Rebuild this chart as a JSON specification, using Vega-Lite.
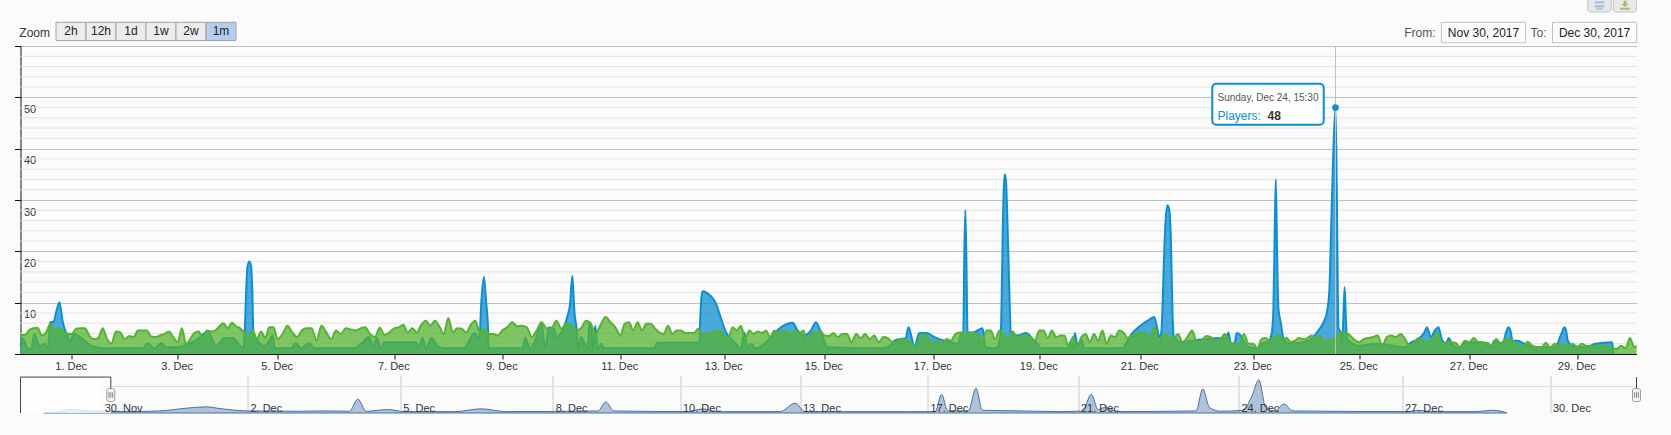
{"$schema":"https://vega.github.io/schema/vega-lite/v6.json","background":"#fbfbfb","padding":{"left":13.5,"top":0,"right":35,"bottom":22},"config":{"view":{"stroke":null},"font":"Liberation Sans"},"bounds":"flush","spacing":0,
"datasets":{
"green":[
{"t":"2017-11-30T00:00","v":3.7},{"t":"2017-11-30T02:00","v":3.7},{"t":"2017-11-30T04:00","v":4.6},{"t":"2017-11-30T06:00","v":5.0},{"t":"2017-11-30T08:00","v":5.1},{"t":"2017-11-30T10:00","v":3.6},{"t":"2017-11-30T12:00","v":4.2},{"t":"2017-11-30T14:00","v":5.9},{"t":"2017-11-30T16:00","v":4.6},{"t":"2017-11-30T18:00","v":5.0},{"t":"2017-11-30T20:00","v":4.4},{"t":"2017-11-30T22:00","v":4.0},
{"t":"2017-12-01T00:00","v":3.9},{"t":"2017-12-01T02:00","v":4.9},{"t":"2017-12-01T04:00","v":5.0},{"t":"2017-12-01T06:00","v":5.0},{"t":"2017-12-01T08:00","v":3.6},{"t":"2017-12-01T10:00","v":2.9},{"t":"2017-12-01T12:00","v":3.1},{"t":"2017-12-01T14:00","v":5.0},{"t":"2017-12-01T16:00","v":2.9},{"t":"2017-12-01T18:00","v":2.0},{"t":"2017-12-01T20:00","v":4.4},{"t":"2017-12-01T22:00","v":4.2},
{"t":"2017-12-02T00:00","v":2.9},{"t":"2017-12-02T02:00","v":3.5},{"t":"2017-12-02T04:00","v":3.3},{"t":"2017-12-02T06:00","v":4.6},{"t":"2017-12-02T08:00","v":4.6},{"t":"2017-12-02T10:00","v":4.6},{"t":"2017-12-02T12:00","v":3.4},{"t":"2017-12-02T14:00","v":3.3},{"t":"2017-12-02T16:00","v":3.6},{"t":"2017-12-02T18:00","v":3.9},{"t":"2017-12-02T20:00","v":4.4},{"t":"2017-12-02T22:00","v":3.3},
{"t":"2017-12-03T00:00","v":2.3},{"t":"2017-12-03T02:00","v":5.0},{"t":"2017-12-03T04:00","v":2.0},{"t":"2017-12-03T06:00","v":2.9},{"t":"2017-12-03T08:00","v":4.1},{"t":"2017-12-03T10:00","v":4.4},{"t":"2017-12-03T12:00","v":3.3},{"t":"2017-12-03T14:00","v":4.6},{"t":"2017-12-03T16:00","v":4.4},{"t":"2017-12-03T18:00","v":4.6},{"t":"2017-12-03T20:00","v":5.4},{"t":"2017-12-03T22:00","v":6.0},
{"t":"2017-12-04T00:00","v":5.0},{"t":"2017-12-04T02:00","v":6.1},{"t":"2017-12-04T04:00","v":5.4},{"t":"2017-12-04T06:00","v":5.0},{"t":"2017-12-04T08:00","v":4.2},{"t":"2017-12-04T10:00","v":3.3},{"t":"2017-12-04T12:00","v":4.6},{"t":"2017-12-04T14:00","v":2.9},{"t":"2017-12-04T16:00","v":4.4},{"t":"2017-12-04T18:00","v":3.1},{"t":"2017-12-04T20:00","v":5.2},{"t":"2017-12-04T22:00","v":5.2},
{"t":"2017-12-05T00:00","v":2.9},{"t":"2017-12-05T02:00","v":3.9},{"t":"2017-12-05T04:00","v":5.5},{"t":"2017-12-05T06:00","v":4.2},{"t":"2017-12-05T08:00","v":3.3},{"t":"2017-12-05T10:00","v":4.6},{"t":"2017-12-05T12:00","v":5.0},{"t":"2017-12-05T14:00","v":5.0},{"t":"2017-12-05T16:00","v":2.6},{"t":"2017-12-05T18:00","v":5.5},{"t":"2017-12-05T20:00","v":4.2},{"t":"2017-12-05T22:00","v":2.9},
{"t":"2017-12-06T00:00","v":4.6},{"t":"2017-12-06T02:00","v":3.9},{"t":"2017-12-06T04:00","v":5.0},{"t":"2017-12-06T06:00","v":4.8},{"t":"2017-12-06T08:00","v":4.6},{"t":"2017-12-06T10:00","v":5.0},{"t":"2017-12-06T12:00","v":5.2},{"t":"2017-12-06T14:00","v":3.9},{"t":"2017-12-06T16:00","v":3.3},{"t":"2017-12-06T18:00","v":5.1},{"t":"2017-12-06T20:00","v":3.7},{"t":"2017-12-06T22:00","v":4.2},
{"t":"2017-12-07T00:00","v":5.0},{"t":"2017-12-07T02:00","v":5.2},{"t":"2017-12-07T04:00","v":5.7},{"t":"2017-12-07T06:00","v":4.2},{"t":"2017-12-07T08:00","v":5.0},{"t":"2017-12-07T10:00","v":4.2},{"t":"2017-12-07T12:00","v":5.7},{"t":"2017-12-07T14:00","v":6.5},{"t":"2017-12-07T16:00","v":5.5},{"t":"2017-12-07T18:00","v":6.5},{"t":"2017-12-07T20:00","v":5.4},{"t":"2017-12-07T22:00","v":3.9},
{"t":"2017-12-08T00:00","v":7.0},{"t":"2017-12-08T02:00","v":4.2},{"t":"2017-12-08T04:00","v":5.0},{"t":"2017-12-08T06:00","v":4.9},{"t":"2017-12-08T08:00","v":4.2},{"t":"2017-12-08T10:00","v":5.7},{"t":"2017-12-08T12:00","v":6.5},{"t":"2017-12-08T14:00","v":4.2},{"t":"2017-12-08T16:00","v":5.0},{"t":"2017-12-08T18:00","v":3.9},{"t":"2017-12-08T20:00","v":3.9},{"t":"2017-12-08T22:00","v":3.6},
{"t":"2017-12-09T00:00","v":4.6},{"t":"2017-12-09T02:00","v":5.2},{"t":"2017-12-09T04:00","v":6.2},{"t":"2017-12-09T06:00","v":5.4},{"t":"2017-12-09T08:00","v":5.5},{"t":"2017-12-09T10:00","v":5.2},{"t":"2017-12-09T12:00","v":3.3},{"t":"2017-12-09T14:00","v":4.6},{"t":"2017-12-09T16:00","v":6.2},{"t":"2017-12-09T18:00","v":5.0},{"t":"2017-12-09T20:00","v":5.0},{"t":"2017-12-09T22:00","v":6.5},
{"t":"2017-12-10T00:00","v":4.9},{"t":"2017-12-10T02:00","v":5.9},{"t":"2017-12-10T04:00","v":5.7},{"t":"2017-12-10T06:00","v":4.6},{"t":"2017-12-10T08:00","v":5.0},{"t":"2017-12-10T10:00","v":6.5},{"t":"2017-12-10T12:00","v":5.9},{"t":"2017-12-10T14:00","v":3.9},{"t":"2017-12-10T16:00","v":5.7},{"t":"2017-12-10T18:00","v":7.2},{"t":"2017-12-10T20:00","v":6.2},{"t":"2017-12-10T22:00","v":5.2},
{"t":"2017-12-11T00:00","v":3.6},{"t":"2017-12-11T02:00","v":5.9},{"t":"2017-12-11T04:00","v":6.2},{"t":"2017-12-11T06:00","v":4.6},{"t":"2017-12-11T08:00","v":6.2},{"t":"2017-12-11T10:00","v":4.6},{"t":"2017-12-11T12:00","v":5.9},{"t":"2017-12-11T14:00","v":5.9},{"t":"2017-12-11T16:00","v":5.0},{"t":"2017-12-11T18:00","v":4.2},{"t":"2017-12-11T20:00","v":3.9},{"t":"2017-12-11T22:00","v":5.5},
{"t":"2017-12-12T00:00","v":3.9},{"t":"2017-12-12T02:00","v":4.6},{"t":"2017-12-12T04:00","v":4.6},{"t":"2017-12-12T06:00","v":4.1},{"t":"2017-12-12T08:00","v":4.1},{"t":"2017-12-12T10:00","v":4.1},{"t":"2017-12-12T12:00","v":4.9},{"t":"2017-12-12T14:00","v":3.6},{"t":"2017-12-12T16:00","v":4.2},{"t":"2017-12-12T18:00","v":3.9},{"t":"2017-12-12T20:00","v":4.6},{"t":"2017-12-12T22:00","v":4.6},
{"t":"2017-12-13T00:00","v":3.6},{"t":"2017-12-13T02:00","v":3.3},{"t":"2017-12-13T04:00","v":5.2},{"t":"2017-12-13T06:00","v":4.6},{"t":"2017-12-13T08:00","v":5.5},{"t":"2017-12-13T10:00","v":2.9},{"t":"2017-12-13T12:00","v":4.6},{"t":"2017-12-13T14:00","v":3.9},{"t":"2017-12-13T16:00","v":4.4},{"t":"2017-12-13T18:00","v":4.1},{"t":"2017-12-13T20:00","v":4.6},{"t":"2017-12-13T22:00","v":3.3},
{"t":"2017-12-14T00:00","v":4.6},{"t":"2017-12-14T02:00","v":3.9},{"t":"2017-12-14T04:00","v":4.6},{"t":"2017-12-14T06:00","v":4.2},{"t":"2017-12-14T08:00","v":3.9},{"t":"2017-12-14T10:00","v":4.6},{"t":"2017-12-14T12:00","v":4.1},{"t":"2017-12-14T14:00","v":4.6},{"t":"2017-12-14T16:00","v":2.0},{"t":"2017-12-14T18:00","v":4.2},{"t":"2017-12-14T20:00","v":3.9},{"t":"2017-12-14T22:00","v":4.6},
{"t":"2017-12-15T00:00","v":3.6},{"t":"2017-12-15T02:00","v":3.5},{"t":"2017-12-15T04:00","v":4.1},{"t":"2017-12-15T06:00","v":3.3},{"t":"2017-12-15T08:00","v":3.9},{"t":"2017-12-15T10:00","v":3.9},{"t":"2017-12-15T12:00","v":2.3},{"t":"2017-12-15T14:00","v":3.9},{"t":"2017-12-15T16:00","v":3.1},{"t":"2017-12-15T18:00","v":3.9},{"t":"2017-12-15T20:00","v":2.9},{"t":"2017-12-15T22:00","v":3.6},
{"t":"2017-12-16T00:00","v":2.3},{"t":"2017-12-16T02:00","v":3.3},{"t":"2017-12-16T04:00","v":3.1},{"t":"2017-12-16T06:00","v":2.3},{"t":"2017-12-16T08:00","v":2.4},{"t":"2017-12-16T10:00","v":2.9},{"t":"2017-12-16T12:00","v":2.6},{"t":"2017-12-16T14:00","v":2.3},{"t":"2017-12-16T16:00","v":1.1},{"t":"2017-12-16T18:00","v":3.1},{"t":"2017-12-16T20:00","v":3.9},{"t":"2017-12-16T22:00","v":2.9},
{"t":"2017-12-17T00:00","v":2.0},{"t":"2017-12-17T02:00","v":2.6},{"t":"2017-12-17T04:00","v":2.0},{"t":"2017-12-17T06:00","v":2.9},{"t":"2017-12-17T08:00","v":2.6},{"t":"2017-12-17T10:00","v":3.9},{"t":"2017-12-17T12:00","v":4.2},{"t":"2017-12-17T14:00","v":4.2},{"t":"2017-12-17T16:00","v":4.2},{"t":"2017-12-17T18:00","v":4.1},{"t":"2017-12-17T20:00","v":3.9},{"t":"2017-12-17T22:00","v":2.3},
{"t":"2017-12-18T00:00","v":4.6},{"t":"2017-12-18T02:00","v":4.6},{"t":"2017-12-18T04:00","v":2.9},{"t":"2017-12-18T06:00","v":4.6},{"t":"2017-12-18T08:00","v":3.9},{"t":"2017-12-18T10:00","v":2.9},{"t":"2017-12-18T12:00","v":4.4},{"t":"2017-12-18T14:00","v":2.9},{"t":"2017-12-18T16:00","v":3.6},{"t":"2017-12-18T18:00","v":3.6},{"t":"2017-12-18T20:00","v":3.3},{"t":"2017-12-18T22:00","v":2.6},
{"t":"2017-12-19T00:00","v":4.6},{"t":"2017-12-19T02:00","v":4.6},{"t":"2017-12-19T04:00","v":3.1},{"t":"2017-12-19T06:00","v":4.6},{"t":"2017-12-19T08:00","v":3.3},{"t":"2017-12-19T10:00","v":3.6},{"t":"2017-12-19T12:00","v":3.6},{"t":"2017-12-19T14:00","v":1.3},{"t":"2017-12-19T16:00","v":3.3},{"t":"2017-12-19T18:00","v":1.3},{"t":"2017-12-19T20:00","v":3.3},{"t":"2017-12-19T22:00","v":3.9},
{"t":"2017-12-20T00:00","v":2.3},{"t":"2017-12-20T02:00","v":3.9},{"t":"2017-12-20T04:00","v":2.6},{"t":"2017-12-20T06:00","v":4.6},{"t":"2017-12-20T08:00","v":2.0},{"t":"2017-12-20T10:00","v":3.6},{"t":"2017-12-20T12:00","v":3.3},{"t":"2017-12-20T14:00","v":4.6},{"t":"2017-12-20T16:00","v":4.2},{"t":"2017-12-20T18:00","v":3.1},{"t":"2017-12-20T20:00","v":3.6},{"t":"2017-12-20T22:00","v":3.9},
{"t":"2017-12-21T00:00","v":4.2},{"t":"2017-12-21T02:00","v":4.2},{"t":"2017-12-21T04:00","v":2.9},{"t":"2017-12-21T06:00","v":5.2},{"t":"2017-12-21T08:00","v":2.3},{"t":"2017-12-21T10:00","v":3.9},{"t":"2017-12-21T12:00","v":3.3},{"t":"2017-12-21T14:00","v":2.9},{"t":"2017-12-21T16:00","v":3.9},{"t":"2017-12-21T18:00","v":2.3},{"t":"2017-12-21T20:00","v":3.3},{"t":"2017-12-21T22:00","v":4.6},
{"t":"2017-12-22T00:00","v":2.4},{"t":"2017-12-22T02:00","v":2.6},{"t":"2017-12-22T04:00","v":3.5},{"t":"2017-12-22T06:00","v":3.3},{"t":"2017-12-22T08:00","v":2.6},{"t":"2017-12-22T10:00","v":2.9},{"t":"2017-12-22T12:00","v":3.9},{"t":"2017-12-22T14:00","v":2.3},{"t":"2017-12-22T16:00","v":2.0},{"t":"2017-12-22T18:00","v":1.6},{"t":"2017-12-22T20:00","v":3.9},{"t":"2017-12-22T22:00","v":2.0},
{"t":"2017-12-23T00:00","v":2.0},{"t":"2017-12-23T02:00","v":1.1},{"t":"2017-12-23T04:00","v":2.9},{"t":"2017-12-23T06:00","v":3.1},{"t":"2017-12-23T08:00","v":2.6},{"t":"2017-12-23T10:00","v":3.3},{"t":"2017-12-23T12:00","v":3.6},{"t":"2017-12-23T14:00","v":2.9},{"t":"2017-12-23T16:00","v":3.1},{"t":"2017-12-23T18:00","v":2.3},{"t":"2017-12-23T20:00","v":2.6},{"t":"2017-12-23T22:00","v":3.1},
{"t":"2017-12-24T00:00","v":2.9},{"t":"2017-12-24T02:00","v":3.1},{"t":"2017-12-24T04:00","v":3.6},{"t":"2017-12-24T06:00","v":2.9},{"t":"2017-12-24T08:00","v":3.6},{"t":"2017-12-24T10:00","v":2.3},{"t":"2017-12-24T12:00","v":2.9},{"t":"2017-12-24T14:00","v":2.6},{"t":"2017-12-24T16:00","v":3.6},{"t":"2017-12-24T18:00","v":4.2},{"t":"2017-12-24T20:00","v":3.9},{"t":"2017-12-24T22:00","v":2.9},
{"t":"2017-12-25T00:00","v":2.3},{"t":"2017-12-25T02:00","v":2.9},{"t":"2017-12-25T04:00","v":3.1},{"t":"2017-12-25T06:00","v":3.3},{"t":"2017-12-25T08:00","v":3.6},{"t":"2017-12-25T10:00","v":1.6},{"t":"2017-12-25T12:00","v":3.3},{"t":"2017-12-25T14:00","v":3.6},{"t":"2017-12-25T16:00","v":3.3},{"t":"2017-12-25T18:00","v":3.9},{"t":"2017-12-25T20:00","v":2.9},{"t":"2017-12-25T22:00","v":1.6},
{"t":"2017-12-26T00:00","v":2.3},{"t":"2017-12-26T02:00","v":3.1},{"t":"2017-12-26T04:00","v":2.6},{"t":"2017-12-26T06:00","v":2.4},{"t":"2017-12-26T08:00","v":2.9},{"t":"2017-12-26T10:00","v":4.2},{"t":"2017-12-26T12:00","v":2.0},{"t":"2017-12-26T14:00","v":2.3},{"t":"2017-12-26T16:00","v":2.3},{"t":"2017-12-26T18:00","v":2.2},{"t":"2017-12-26T20:00","v":1.3},{"t":"2017-12-26T22:00","v":2.6},
{"t":"2017-12-27T00:00","v":2.3},{"t":"2017-12-27T02:00","v":3.1},{"t":"2017-12-27T04:00","v":2.3},{"t":"2017-12-27T06:00","v":2.2},{"t":"2017-12-27T08:00","v":2.2},{"t":"2017-12-27T10:00","v":1.5},{"t":"2017-12-27T12:00","v":2.9},{"t":"2017-12-27T14:00","v":2.0},{"t":"2017-12-27T16:00","v":2.9},{"t":"2017-12-27T18:00","v":2.9},{"t":"2017-12-27T20:00","v":2.3},{"t":"2017-12-27T22:00","v":1.6},
{"t":"2017-12-28T00:00","v":1.6},{"t":"2017-12-28T02:00","v":2.4},{"t":"2017-12-28T04:00","v":1.6},{"t":"2017-12-28T06:00","v":1.3},{"t":"2017-12-28T08:00","v":1.3},{"t":"2017-12-28T10:00","v":2.2},{"t":"2017-12-28T12:00","v":1.3},{"t":"2017-12-28T14:00","v":2.0},{"t":"2017-12-28T16:00","v":1.6},{"t":"2017-12-28T18:00","v":1.8},{"t":"2017-12-28T20:00","v":1.5},{"t":"2017-12-28T22:00","v":2.0},
{"t":"2017-12-29T00:00","v":1.3},{"t":"2017-12-29T02:00","v":2.0},{"t":"2017-12-29T04:00","v":1.6},{"t":"2017-12-29T06:00","v":1.5},{"t":"2017-12-29T08:00","v":1.6},{"t":"2017-12-29T10:00","v":1.5},{"t":"2017-12-29T12:00","v":1.6},{"t":"2017-12-29T14:00","v":1.5},{"t":"2017-12-29T16:00","v":1.1},{"t":"2017-12-29T18:00","v":1.0},{"t":"2017-12-29T20:00","v":1.6},{"t":"2017-12-29T22:00","v":1.1},
{"t":"2017-12-30T00:00","v":3.1},{"t":"2017-12-30T02:00","v":1.3},{"t":"2017-12-30T03:00","v":1.6}
],
"blue":[
{"t":"2017-11-30T00:00","v":1.6},{"t":"2017-11-30T01:00","v":3.0},{"t":"2017-11-30T03:30","v":1.0},{"t":"2017-11-30T05:00","v":1.0},{"t":"2017-11-30T06:30","v":3.9},{"t":"2017-11-30T09:00","v":1.5},{"t":"2017-11-30T11:15","v":2.0},{"t":"2017-11-30T12:50","v":1.0},{"t":"2017-11-30T14:00","v":6.2},{"t":"2017-11-30T15:30","v":6.3},{"t":"2017-11-30T16:45","v":8.2},{"t":"2017-11-30T18:15","v":10.1},{"t":"2017-11-30T19:50","v":6.2},{"t":"2017-11-30T21:25","v":4.1},{"t":"2017-11-30T23:15","v":2.6},
{"t":"2017-12-01T01:15","v":3.9},{"t":"2017-12-01T05:00","v":2.9},{"t":"2017-12-01T08:45","v":1.6},{"t":"2017-12-01T14:00","v":1.1},{"t":"2017-12-02T08:10","v":1.1},{"t":"2017-12-02T10:30","v":2.1},{"t":"2017-12-02T13:30","v":1.1},{"t":"2017-12-02T16:30","v":2.1},{"t":"2017-12-02T18:45","v":1.3},{"t":"2017-12-02T23:15","v":1.3},
{"t":"2017-12-03T05:36","v":2.0},{"t":"2017-12-03T09:36","v":2.9},{"t":"2017-12-03T14:24","v":4.4},{"t":"2017-12-03T18:24","v":1.6},{"t":"2017-12-03T22:24","v":3.1},{"t":"2017-12-04T02:24","v":3.1},{"t":"2017-12-04T07:30","v":1.1},{"t":"2017-12-04T08:10","v":4.2},{"t":"2017-12-04T08:50","v":12},{"t":"2017-12-04T09:30","v":17},{"t":"2017-12-04T10:24","v":18},{"t":"2017-12-04T11:15","v":17},{"t":"2017-12-04T11:50","v":12},{"t":"2017-12-04T12:20","v":4.2},{"t":"2017-12-04T14:24","v":2.6},{"t":"2017-12-04T17:36","v":1.5},{"t":"2017-12-04T20:00","v":2.6},{"t":"2017-12-04T21:36","v":3.6},{"t":"2017-12-04T22:35","v":1.1},
{"t":"2017-12-05T05:30","v":1.1},{"t":"2017-12-05T07:30","v":2.1},{"t":"2017-12-05T09:36","v":1.1},{"t":"2017-12-05T13:00","v":2.1},{"t":"2017-12-05T15:00","v":1.1},{"t":"2017-12-06T07:30","v":1.1},{"t":"2017-12-06T11:00","v":2.3},{"t":"2017-12-06T13:40","v":3.3},{"t":"2017-12-06T15:25","v":1.3},{"t":"2017-12-06T16:45","v":3.1},{"t":"2017-12-06T18:30","v":1.1},{"t":"2017-12-06T19:55","v":2.3},
{"t":"2017-12-07T09:40","v":2.3},{"t":"2017-12-07T10:40","v":1.1},{"t":"2017-12-07T12:35","v":3.1},{"t":"2017-12-07T14:00","v":1.1},{"t":"2017-12-07T16:35","v":3.1},{"t":"2017-12-07T19:15","v":1.5},{"t":"2017-12-07T23:00","v":1.1},{"t":"2017-12-08T07:00","v":1.1},{"t":"2017-12-08T08:35","v":2.0},{"t":"2017-12-08T11:35","v":4.1},{"t":"2017-12-08T13:50","v":2.9},{"t":"2017-12-08T14:40","v":10},{"t":"2017-12-08T15:50","v":15},{"t":"2017-12-08T16:50","v":10},{"t":"2017-12-08T17:40","v":4.9},{"t":"2017-12-08T17:50","v":1.1},
{"t":"2017-12-09T08:15","v":1.1},{"t":"2017-12-09T09:20","v":3.1},{"t":"2017-12-09T11:15","v":1.1},{"t":"2017-12-09T13:35","v":2.9},{"t":"2017-12-09T15:55","v":6.2},{"t":"2017-12-09T17:25","v":1.1},{"t":"2017-12-09T19:00","v":5.2},{"t":"2017-12-09T21:05","v":4.9},{"t":"2017-12-09T21:50","v":3.3},
{"t":"2017-12-10T00:30","v":4.6},{"t":"2017-12-10T02:35","v":7.5},{"t":"2017-12-10T03:30","v":9.5},{"t":"2017-12-10T04:30","v":15.2},{"t":"2017-12-10T05:20","v":8.2},{"t":"2017-12-10T06:15","v":4.6},{"t":"2017-12-10T06:45","v":0.7},{"t":"2017-12-10T08:00","v":3.3},{"t":"2017-12-10T10:45","v":1.0},{"t":"2017-12-10T11:25","v":6.2},{"t":"2017-12-10T12:05","v":5.7},{"t":"2017-12-10T12:50","v":0.7},{"t":"2017-12-10T13:50","v":5.5},{"t":"2017-12-10T14:45","v":0.7},{"t":"2017-12-10T16:05","v":2.0},{"t":"2017-12-10T17:30","v":1.1},
{"t":"2017-12-11T15:40","v":1.1},{"t":"2017-12-11T17:10","v":2.2},{"t":"2017-12-12T12:30","v":2.2},{"t":"2017-12-12T12:50","v":6.2},{"t":"2017-12-12T13:25","v":10.8},{"t":"2017-12-12T14:00","v":12.2},{"t":"2017-12-12T16:20","v":11.8},{"t":"2017-12-12T20:10","v":9.8},{"t":"2017-12-12T22:30","v":6.9},
{"t":"2017-12-13T00:50","v":4.2},{"t":"2017-12-13T04:50","v":2.3},{"t":"2017-12-13T08:00","v":1.1},{"t":"2017-12-13T09:35","v":4.2},{"t":"2017-12-13T11:10","v":1.1},{"t":"2017-12-13T12:50","v":2.0},{"t":"2017-12-13T15:10","v":1.1},{"t":"2017-12-13T19:10","v":2.0},{"t":"2017-12-13T23:10","v":3.6},{"t":"2017-12-14T03:10","v":5.2},{"t":"2017-12-14T08:50","v":6.1},{"t":"2017-12-14T11:10","v":4.6},{"t":"2017-12-14T14:25","v":3.6},{"t":"2017-12-14T17:35","v":4.6},{"t":"2017-12-14T20:00","v":6.2},{"t":"2017-12-14T22:25","v":4.2},
{"t":"2017-12-15T01:30","v":1.3},{"t":"2017-12-16T01:45","v":1.1},{"t":"2017-12-16T04:45","v":1.6},{"t":"2017-12-16T06:55","v":2.6},{"t":"2017-12-16T09:05","v":2.9},{"t":"2017-12-16T12:00","v":3.1},{"t":"2017-12-16T12:35","v":4.6},{"t":"2017-12-16T13:10","v":5.2},{"t":"2017-12-16T14:05","v":3.9},{"t":"2017-12-16T14:40","v":2.9},{"t":"2017-12-16T15:40","v":1.0},{"t":"2017-12-16T16:40","v":2.6},{"t":"2017-12-16T17:55","v":4.1},{"t":"2017-12-16T20:55","v":4.1},
{"t":"2017-12-17T00:30","v":3.3},{"t":"2017-12-17T05:00","v":2.6},{"t":"2017-12-17T08:00","v":2.3},{"t":"2017-12-17T11:00","v":2.0},{"t":"2017-12-17T13:00","v":4.2},{"t":"2017-12-17T13:35","v":4.2},{"t":"2017-12-17T14:00","v":18},{"t":"2017-12-17T14:30","v":28},{"t":"2017-12-17T15:00","v":18},{"t":"2017-12-17T15:30","v":4.2},{"t":"2017-12-17T17:50","v":4.2},{"t":"2017-12-17T22:20","v":5.0},{"t":"2017-12-17T23:30","v":1.3},
{"t":"2017-12-18T04:25","v":1.1},{"t":"2017-12-18T06:35","v":4.2},{"t":"2017-12-18T07:05","v":14},{"t":"2017-12-18T07:35","v":27},{"t":"2017-12-18T08:00","v":33},{"t":"2017-12-18T08:30","v":35},{"t":"2017-12-18T09:00","v":33},{"t":"2017-12-18T09:30","v":27},{"t":"2017-12-18T10:15","v":15},{"t":"2017-12-18T11:10","v":4.2},{"t":"2017-12-18T14:10","v":3.6},{"t":"2017-12-18T18:00","v":4.1},{"t":"2017-12-18T21:45","v":2.6},
{"t":"2017-12-19T01:35","v":1.1},{"t":"2017-12-19T13:30","v":1.1},{"t":"2017-12-19T15:00","v":2.6},{"t":"2017-12-19T16:10","v":1.0},{"t":"2017-12-19T16:50","v":4.1},{"t":"2017-12-19T18:15","v":1.6},{"t":"2017-12-19T19:50","v":2.9},{"t":"2017-12-19T21:25","v":1.1},{"t":"2017-12-20T03:00","v":1.1},{"t":"2017-12-20T15:35","v":1.1},{"t":"2017-12-20T17:10","v":2.0},{"t":"2017-12-20T18:50","v":3.3},
{"t":"2017-12-21T00:20","v":5.6},{"t":"2017-12-21T03:50","v":6.7},{"t":"2017-12-21T05:55","v":7.2},{"t":"2017-12-21T07:05","v":5.2},{"t":"2017-12-21T08:05","v":3.3},{"t":"2017-12-21T08:55","v":4.2},{"t":"2017-12-21T09:30","v":10},{"t":"2017-12-21T10:10","v":20},{"t":"2017-12-21T10:55","v":27},{"t":"2017-12-21T11:35","v":29},{"t":"2017-12-21T12:20","v":28},{"t":"2017-12-21T13:00","v":22},{"t":"2017-12-21T13:45","v":7},{"t":"2017-12-21T14:10","v":3.5},{"t":"2017-12-21T15:10","v":2.9},{"t":"2017-12-21T17:15","v":2.3},{"t":"2017-12-21T22:15","v":2.6},
{"t":"2017-12-22T03:55","v":2.9},{"t":"2017-12-22T11:00","v":3.1},{"t":"2017-12-22T12:25","v":3.1},{"t":"2017-12-22T13:25","v":4.2},{"t":"2017-12-22T14:30","v":2.0},{"t":"2017-12-22T16:00","v":2.0},{"t":"2017-12-22T16:55","v":4.1},{"t":"2017-12-22T18:50","v":3.5},{"t":"2017-12-22T20:10","v":2.3},{"t":"2017-12-22T22:20","v":1.3},
{"t":"2017-12-23T02:50","v":1.1},{"t":"2017-12-23T04:25","v":2.0},{"t":"2017-12-23T07:40","v":2.6},{"t":"2017-12-23T08:55","v":4.2},{"t":"2017-12-23T09:40","v":8.8},{"t":"2017-12-23T10:20","v":25},{"t":"2017-12-23T10:50","v":34},{"t":"2017-12-23T11:25","v":20},{"t":"2017-12-23T12:05","v":8.8},{"t":"2017-12-23T13:10","v":6.2},{"t":"2017-12-23T14:20","v":3.3},{"t":"2017-12-23T17:05","v":2.0},
{"t":"2017-12-24T02:40","v":2.6},{"t":"2017-12-24T06:35","v":4.2},{"t":"2017-12-24T09:45","v":6.2},{"t":"2017-12-24T11:25","v":8.2},{"t":"2017-12-24T12:30","v":12},{"t":"2017-12-24T13:30","v":26},{"t":"2017-12-24T14:30","v":40},{"t":"2017-12-24T15:30","v":48},{"t":"2017-12-24T16:00","v":30},{"t":"2017-12-24T16:20","v":12},{"t":"2017-12-24T16:35","v":5},{"t":"2017-12-24T17:20","v":4.2},{"t":"2017-12-24T17:50","v":2.0},{"t":"2017-12-24T18:15","v":6.2},{"t":"2017-12-24T18:45","v":13},{"t":"2017-12-24T19:15","v":6.2},{"t":"2017-12-24T19:40","v":2.9},
{"t":"2017-12-25T00:00","v":1.6},{"t":"2017-12-25T07:15","v":2.0},{"t":"2017-12-25T20:20","v":1.3},{"t":"2017-12-25T21:50","v":2.0},{"t":"2017-12-26T01:30","v":2.9},{"t":"2017-12-26T04:25","v":4.2},{"t":"2017-12-26T05:30","v":5.2},{"t":"2017-12-26T07:15","v":3.3},{"t":"2017-12-26T09:00","v":4.6},{"t":"2017-12-26T10:30","v":5.2},{"t":"2017-12-26T12:00","v":2.9},{"t":"2017-12-26T13:50","v":2.0},{"t":"2017-12-26T15:00","v":3.1},{"t":"2017-12-26T16:25","v":2.0},{"t":"2017-12-26T19:35","v":1.1},{"t":"2017-12-26T21:50","v":2.3},
{"t":"2017-12-27T05:55","v":2.3},{"t":"2017-12-27T09:40","v":1.3},{"t":"2017-12-27T11:05","v":2.6},{"t":"2017-12-27T14:50","v":2.0},{"t":"2017-12-27T16:20","v":4.2},{"t":"2017-12-27T17:20","v":5.2},{"t":"2017-12-27T18:15","v":4.6},{"t":"2017-12-27T19:15","v":2.6},{"t":"2017-12-27T21:30","v":2.6},{"t":"2017-12-28T00:30","v":2.0},{"t":"2017-12-28T07:10","v":1.3},{"t":"2017-12-28T14:30","v":1.3},{"t":"2017-12-28T16:00","v":2.9},{"t":"2017-12-28T17:10","v":4.2},{"t":"2017-12-28T18:15","v":5.2},{"t":"2017-12-28T19:00","v":4.6},{"t":"2017-12-28T19:45","v":2.6},{"t":"2017-12-28T21:55","v":1.6},
{"t":"2017-12-29T03:55","v":1.3},{"t":"2017-12-29T08:20","v":2.0},{"t":"2017-12-29T15:50","v":2.3},{"t":"2017-12-29T16:15","v":1.0},{"t":"2017-12-29T16:35","v":0}
],
"nav":[
{"t":"2017-11-28T18:00","v":0.5},{"t":"2017-11-29T00:00","v":1},{"t":"2017-11-29T08:00","v":5},{"t":"2017-11-29T16:00","v":3},{"t":"2017-11-30T00:00","v":3},{"t":"2017-11-30T08:00","v":2},{"t":"2017-11-30T19:00","v":3},{"t":"2017-12-01T04:00","v":7},{"t":"2017-12-01T10:30","v":9},{"t":"2017-12-01T14:00","v":7},{"t":"2017-12-02T00:00","v":3},{"t":"2017-12-03T00:00","v":2.5},{"t":"2017-12-03T12:00","v":3},{"t":"2017-12-04T00:00","v":2.5},{"t":"2017-12-04T04:00","v":20},{"t":"2017-12-04T08:00","v":2.5},{"t":"2017-12-04T18:00","v":5},{"t":"2017-12-05T02:00","v":2},{"t":"2017-12-06T02:00","v":2},{"t":"2017-12-06T14:00","v":6},{"t":"2017-12-07T02:00","v":2},{"t":"2017-12-08T17:00","v":3},{"t":"2017-12-08T20:00","v":16},{"t":"2017-12-08T23:00","v":3},{"t":"2017-12-10T04:00","v":2},{"t":"2017-12-10T14:00","v":6},{"t":"2017-12-10T22:00","v":2},{"t":"2017-12-12T12:00","v":2},{"t":"2017-12-12T21:00","v":14},{"t":"2017-12-13T04:00","v":2},{"t":"2017-12-16T12:00","v":2},{"t":"2017-12-17T05:00","v":2},{"t":"2017-12-17T09:00","v":27},{"t":"2017-12-17T13:00","v":3},{"t":"2017-12-18T02:00","v":3},{"t":"2017-12-18T07:00","v":36},{"t":"2017-12-18T11:00","v":4},{"t":"2017-12-19T12:00","v":3},{"t":"2017-12-20T12:00","v":2},{"t":"2017-12-21T02:00","v":3},{"t":"2017-12-21T06:00","v":27},{"t":"2017-12-21T09:00","v":5},{"t":"2017-12-21T12:00","v":8},{"t":"2017-12-21T18:00","v":2},{"t":"2017-12-23T05:00","v":3},{"t":"2017-12-23T08:00","v":35},{"t":"2017-12-23T11:00","v":8},{"t":"2017-12-23T16:00","v":2.5},{"t":"2017-12-24T02:00","v":4},{"t":"2017-12-24T06:00","v":25},{"t":"2017-12-24T09:00","v":48},{"t":"2017-12-24T12:00","v":8},{"t":"2017-12-24T16:00","v":3},{"t":"2017-12-24T20:00","v":13},{"t":"2017-12-25T00:00","v":3},{"t":"2017-12-27T03:00","v":2},{"t":"2017-12-27T08:00","v":4},{"t":"2017-12-27T14:00","v":2},{"t":"2017-12-28T12:00","v":2},{"t":"2017-12-28T20:00","v":4},{"t":"2017-12-29T01:00","v":2},{"t":"2017-12-29T03:00","v":0}
],
"minor":[{"y":2},{"y":4},{"y":6},{"y":8},{"y":12},{"y":14},{"y":16},{"y":18},{"y":22},{"y":24},{"y":26},{"y":28},{"y":32},{"y":34},{"y":36},{"y":38},{"y":42},{"y":44},{"y":46},{"y":48},{"y":52},{"y":54},{"y":56},{"y":58}],
"tip":[{"t":"2017-12-24T15:30","v":48,"when":"Sunday, Dec 24, 15:30","name":"Players:","num":"48"}],
"buttons":[{"b":"2h","row":"z"},{"b":"12h","row":"z"},{"b":"1d","row":"z"},{"b":"1w","row":"z"},{"b":"2w","row":"z"},{"b":"1m","row":"z"}],
"boxes":[{"b":"Nov 30, 2017","lab":"From:","row":"r"},{"b":"Dec 30, 2017","lab":"To:","row":"r"}],
"icons":[{"b":"print","row":"i"},{"b":"export","row":"i"}],
"navticks":[{"t":"2017-11-30T00:00"},{"t":"2017-12-02T00:00"},{"t":"2017-12-05T00:00"},{"t":"2017-12-08T00:00"},{"t":"2017-12-10T00:00"},{"t":"2017-12-13T00:00"},{"t":"2017-12-17T00:00"},{"t":"2017-12-21T00:00"},{"t":"2017-12-24T00:00"},{"t":"2017-12-27T00:00"},{"t":"2017-12-30T00:00"}]
},
"vconcat":[
{"width":1616.5,"height":46,
"resolve":{"scale":{"x":"independent","y":"independent","color":"independent"}},
"layer":[
{"data":{"name":"buttons"},"encoding":{"x":{"field":"b","type":"nominal","sort":null,"scale":{"domain":["2h","12h","1d","1w","2w","1m"],"range":[35.5,215.5],"paddingInner":0,"paddingOuter":0},"axis":null},"y":{"field":"row","type":"nominal","scale":{"range":[22.3,40.6],"paddingInner":0,"paddingOuter":0},"axis":null}},
"layer":[
{"mark":{"type":"rect","stroke":"#a3a3a3","strokeWidth":1},"encoding":{"fill":{"field":"b","type":"nominal","scale":{"domain":["2h","12h","1d","1w","2w","1m"],"range":["#ececec","#ececec","#ececec","#ececec","#ececec","#b4cdee"]},"legend":null}}},
{"mark":{"type":"text","fontSize":12,"color":"#222222"},"encoding":{"text":{"field":"b"}}},
{"transform":[{"filter":"datum.b==='2h'"},{"calculate":"'Zoom'","as":"z"}],"mark":{"type":"text","fontSize":12,"color":"#333333","align":"right","dx":-21,"dy":1.5},"encoding":{"text":{"field":"z"}}}
]},
{"data":{"name":"boxes"},"encoding":{"x":{"field":"b","type":"nominal","sort":null,"scale":{"domain":["Nov 30, 2017","Dec 30, 2017"],"range":[1420.9,1616.2],"paddingInner":0.242,"paddingOuter":0},"axis":null},"y":{"field":"row","type":"nominal","scale":{"range":[22.3,42.7],"paddingInner":0,"paddingOuter":0},"axis":null}},
"layer":[
{"mark":{"type":"rect","stroke":"#c2c2c2","strokeWidth":1,"fill":"#fbfbfb"}},
{"mark":{"type":"text","fontSize":12,"color":"#222222"},"encoding":{"text":{"field":"b"}}},
{"mark":{"type":"text","fontSize":12,"color":"#555555","align":"right","dx":-48},"encoding":{"text":{"field":"lab"}}}
]},
{"data":{"name":"icons"},"encoding":{"x":{"field":"b","type":"nominal","sort":null,"scale":{"domain":["print","export"],"range":[1567.3,1616.2],"paddingInner":0.08,"paddingOuter":0},"axis":null},"y":{"field":"row","type":"nominal","scale":{"range":[-8,12],"paddingInner":0,"paddingOuter":0},"axis":null}},
"layer":[
{"mark":{"type":"rect","stroke":"#c4c4c4","strokeWidth":1,"fill":"#e8e8e8","cornerRadius":3,"clip":true}},
{"transform":[{"filter":"datum.b==='print'"}],"mark":{"type":"point","filled":true,"size":90,"color":"#a9c0dd","opacity":1,"yOffset":3.5,"shape":"M-1,-0.9H1V-0.4H-1Z M-1,-0.1H1V0.4H-1Z M-0.7,0.6H0.7V0.9H-0.7Z","clip":true}},
{"transform":[{"filter":"datum.b==='export'"}],"mark":{"type":"point","filled":true,"size":90,"color":"#a3bd6f","opacity":1,"yOffset":3.5,"shape":"M-0.3,-1H0.3V-0.3H0.8L0,0.3L-0.8,-0.3H-0.3Z M-1,0.5H1V0.9H-1Z","clip":true}}
]}
]},
{"spacing":21,"bounds":"flush","vconcat":[
{"width":1616.5,"height":308,
"layer":[
{"data":{"name":"minor"},"mark":{"type":"rule","color":"#e2e2e2","strokeWidth":1},"encoding":{"y":{"field":"y","type":"quantitative","scale":{"domain":[0,60]},"axis":{"values":[0,10,20,30,40,50,60],"grid":true,"gridColor":"#c0c0c0","gridWidth":1,"domainColor":"#111111","tickColor":"#111111","tickSize":6,"title":null,"labelAlign":"left","labelBaseline":"middle","labelPadding":-9,"labelOffset":12,"labelFontSize":11,"labelColor":"#333333","labelBound":false,"labelFlush":false,"labelOverlap":false,"labelExpr":"datum.value==0||datum.value==60?'':datum.label"}}}},
{"data":{"name":"blue"},"transform":[{"calculate":"time(datum.t+'Z')","as":"ms"}],"mark":{"type":"area","interpolate":"monotone","color":"#0d8ecf","fillOpacity":0.75,"strokeWidth":0},"encoding":{"x":{"field":"ms","type":"quantitative","scale":{"domain":[1512000000000,1512086400000,1512259200000,1512432000000,1512604800000,1512777600000,1512950400000,1513123200000,1513296000000,1513468800000,1513641600000,1513814400000,1513987200000,1514129400000,1514160000000,1514332800000,1514505600000,1514602800000],"range":[0,51.2,157.2,257.2,373.8,481.8,599.8,703.8,803.8,912.8,1018.8,1119.8,1232.8,1315,1338.8,1448.8,1556.8,1616],"zero":false,"nice":false},"axis":{"values":[1512086400000,1512259200000,1512432000000,1512604800000,1512777600000,1512950400000,1513123200000,1513296000000,1513468800000,1513641600000,1513814400000,1513987200000,1514160000000,1514332800000,1514505600000],"labelExpr":"utcFormat(datum.value,'%-d. %b')","grid":false,"domainColor":"#111111","tickColor":"#111111","tickSize":5,"title":null,"labelPadding":1,"labelOffset":-1,"labelFontSize":11,"labelColor":"#333333","labelFlush":false,"labelOverlap":false}},"y":{"field":"v","type":"quantitative"}}},
{"data":{"name":"blue"},"transform":[{"calculate":"time(datum.t+'Z')","as":"ms"}],"mark":{"type":"line","interpolate":"monotone","color":"#0d8ecf","strokeWidth":2},"encoding":{"x":{"field":"ms","type":"quantitative"},"y":{"field":"v","type":"quantitative"}}},
{"data":{"name":"green"},"transform":[{"calculate":"time(datum.t+'Z')","as":"ms"}],"mark":{"type":"area","interpolate":"monotone","color":"#55b332","fillOpacity":0.75,"strokeWidth":0},"encoding":{"x":{"field":"ms","type":"quantitative"},"y":{"field":"v","type":"quantitative"}}},
{"data":{"name":"green"},"transform":[{"calculate":"time(datum.t+'Z')","as":"ms"}],"mark":{"type":"line","interpolate":"monotone","color":"#55b332","strokeWidth":2},"encoding":{"x":{"field":"ms","type":"quantitative"},"y":{"field":"v","type":"quantitative"}}},
{"data":{"name":"tip"},"transform":[{"calculate":"time(datum.t+'Z')","as":"ms"}],"encoding":{"x":{"field":"ms","type":"quantitative"}},"layer":[
{"mark":{"type":"rule","color":"#c0c0c0","strokeWidth":1}},
{"mark":{"type":"point","filled":true,"size":45,"color":"#0d8ecf","opacity":1},"encoding":{"y":{"field":"v","type":"quantitative"}}},
{"mark":{"type":"rect","width":111.5,"height":41,"xOffset":-67.5,"yOffset":-3.3,"fill":"#ffffff","fillOpacity":0.92,"stroke":"#0d8ecf","strokeWidth":2,"cornerRadius":4},"encoding":{"y":{"field":"v","type":"quantitative"}}},
{"mark":{"type":"text","align":"left","dx":-118,"dy":-9.3,"fontSize":10,"color":"#555555"},"encoding":{"y":{"field":"v","type":"quantitative"},"text":{"field":"when"}}},
{"mark":{"type":"text","align":"left","dx":-118,"dy":8.4,"fontSize":12,"color":"#0d8ecf"},"encoding":{"y":{"field":"v","type":"quantitative"},"text":{"field":"name"}}},
{"mark":{"type":"text","align":"left","dx":-68,"dy":8.4,"fontSize":12,"fontWeight":"bold","color":"#333333"},"encoding":{"y":{"field":"v","type":"quantitative"},"text":{"field":"num"}}}
]}
]},
{"width":1616.5,"height":38,
"layer":[
{"data":{"name":"nav"},"transform":[{"calculate":"time(datum.t+'Z')","as":"ms"}],"mark":{"type":"area","interpolate":"monotone","color":"#4572a7","fillOpacity":0.42,"stroke":"#4572a7","strokeWidth":1},"encoding":{"x":{"field":"ms","type":"quantitative","scale":{"domain":[1511848800000,1512000000000,1512172800000,1512432000000,1512691200000,1512864000000,1513123200000,1513468800000,1513814400000,1514073600000,1514332800000,1514592000000,1514721600000],"range":[0,81.2,226.9,379.8,532.3,659.5,779.5,906.9,1057.5,1217.9,1381.5,1529.5,1616],"zero":false,"nice":false},"axis":{"values":[1512000000000,1512172800000,1512432000000,1512691200000,1512864000000,1513123200000,1513468800000,1513814400000,1514073600000,1514332800000,1514592000000],"grid":true,"gridColor":"#cccccc","labels":false,"ticks":false,"domain":false,"title":null}},"y":{"field":"v","type":"quantitative","scale":{"domain":[0,52]},"axis":{"values":[38.8],"grid":true,"gridColor":"#e0e0e0","labels":false,"ticks":false,"domain":false,"title":null}}}},
{"data":{"values":[{"a":"2017-11-28T06:00","b":"2017-11-30T03:00","hi":52,"lo":0}]},"transform":[{"calculate":"time(datum.a+'Z')","as":"am"},{"calculate":"time(datum.b+'Z')","as":"bm"}],"layer":[
{"mark":{"type":"rect","fill":"#ffffff","fillOpacity":0.78},"encoding":{"x":{"field":"am","type":"quantitative"},"x2":{"field":"bm"}}},
{"mark":{"type":"rule","color":"#444444","strokeWidth":1},"encoding":{"x":{"field":"am","type":"quantitative"},"x2":{"field":"bm"},"y":{"field":"hi","type":"quantitative"}}},
{"mark":{"type":"rule","color":"#444444","strokeWidth":1},"encoding":{"x":{"field":"am","type":"quantitative"},"y":{"field":"hi","type":"quantitative"},"y2":{"field":"lo"}}},
{"mark":{"type":"rule","color":"#444444","strokeWidth":1},"encoding":{"x":{"field":"bm","type":"quantitative"},"y":{"field":"hi","type":"quantitative"},"y2":{"datum":30}}}
]},
{"data":{"values":[{"t":"2017-12-31T12:00","hi":52,"lo":30}]},"transform":[{"calculate":"time(datum.t+'Z')","as":"ms"}],"mark":{"type":"rule","color":"#444444","strokeWidth":1},"encoding":{"x":{"field":"ms","type":"quantitative"},"y":{"field":"hi","type":"quantitative"},"y2":{"field":"lo"}}},
{"data":{"values":[{"t":"2017-11-30T03:00","v":26},{"t":"2017-12-31T12:00","v":26}]},"transform":[{"calculate":"time(datum.t+'Z')","as":"ms"}],"encoding":{"x":{"field":"ms","type":"quantitative"},"y":{"field":"v","type":"quantitative"}},"layer":[
{"mark":{"type":"rect","width":8,"height":13,"fill":"#f2f2f2","stroke":"#999999","strokeWidth":1,"cornerRadius":2}},
{"mark":{"type":"point","size":14,"stroke":"#888888","strokeWidth":1,"fill":null,"opacity":1,"shape":"M-1,-1.5V1.5 M0,-1.5V1.5 M1,-1.5V1.5"}}
]},
{"data":{"name":"navticks"},"transform":[{"calculate":"time(datum.t+'Z')","as":"ms"},{"calculate":"utcFormat(datum.ms,'%-d. %b')","as":"lab"}],"mark":{"type":"text","align":"left","dx":3,"fontSize":11,"color":"#333333"},"encoding":{"x":{"field":"ms","type":"quantitative"},"y":{"datum":5.5,"type":"quantitative"},"text":{"field":"lab"}}}
]}
]}
]}
